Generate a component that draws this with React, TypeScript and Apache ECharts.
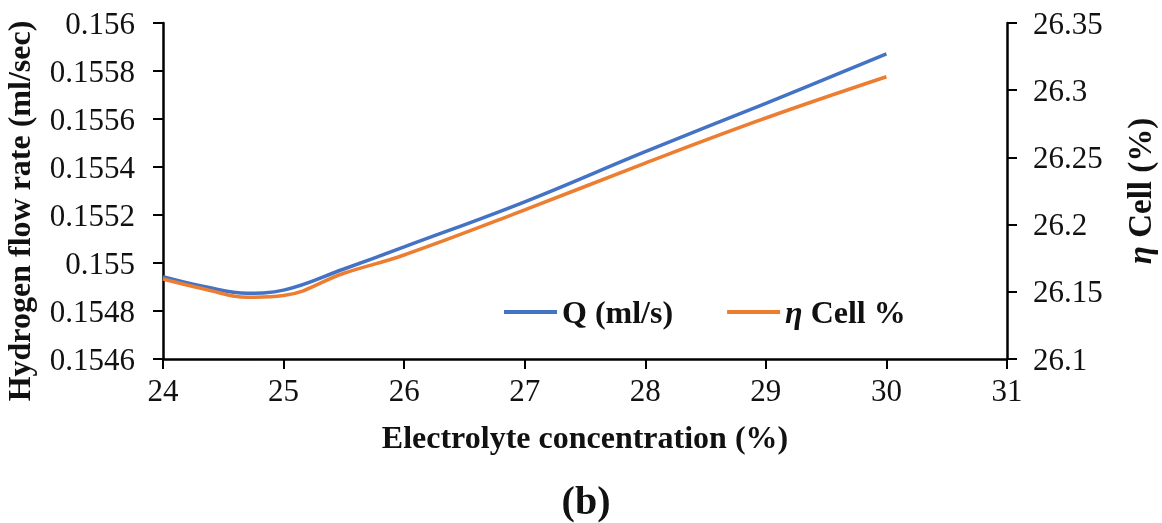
import React, { useEffect, useRef } from "react";
import * as echarts from "echarts";

const concentration = [24, 24.35, 24.7, 25, 25.5, 26, 27, 28, 29, 30];
const flowRate = [0.154943, 0.154901, 0.154874, 0.154887, 0.154975, 0.155067, 0.155255, 0.155464, 0.155665, 0.155871];
const cellEff = [26.1595, 26.1519, 26.1459, 26.1472, 26.1638, 26.1774, 26.2109, 26.2458, 26.2793, 26.31];

const FONT = "'Liberation Serif', 'Times New Roman', serif";
const BLUE = "#4472C4";
const ORANGE = "#ED7D31";

const mkLine = () => ({ show: true, onZero: false, lineStyle: { color: "#000", width: 2.5 } });
const mkTick = () => ({ show: true, inside: false, length: 10, lineStyle: { color: "#000", width: 2 } });

export default function App() {
  const ref = useRef<HTMLDivElement>(null);
  useEffect(() => {
    if (!ref.current) return;
    const chart = echarts.init(ref.current, null, { renderer: "svg" });
    const labelStyle = { color: "#111", fontFamily: FONT, fontSize: 31 };
    const nameStyle = { color: "#111", fontFamily: FONT, fontSize: 32, fontWeight: "bold" as const };
    const italic = (size: number) => ({ fontFamily: FONT, fontSize: size, fontStyle: "italic", fontWeight: "bold", color: "#111" });
    chart.setOption({
      animation: false,
      grid: { left: 163, right: 155, top: 23, bottom: 164, containLabel: false, outerBoundsMode: "none" },
      legend: {
        left: 504,
        top: 296,
        padding: 0,
        itemWidth: 53,
        itemHeight: 4,
        itemGap: 54,
        icon: "rect",
        data: ["Q (ml/s)", "η Cell %"],
        formatter: (name: string) => (name === "η Cell %" ? "{i|η} Cell %" : name),
        textStyle: {
          color: "#111",
          fontFamily: FONT,
          fontSize: 32,
          fontWeight: "bold",
          rich: { i: italic(32) },
        },
      },
      xAxis: {
        type: "value",
        min: 24,
        max: 31,
        interval: 1,
        name: "Electrolyte concentration (%)",
        nameLocation: "middle",
        nameGap: 62,
        nameTextStyle: nameStyle,
        axisLine: mkLine(),
        axisTick: mkTick(),
        splitLine: { show: false },
        axisLabel: { ...labelStyle, margin: 16 },
      },
      yAxis: [
        {
          type: "value",
          min: 0.1546,
          max: 0.156,
          interval: 0.0002,
          name: "Hydrogen flow rate (ml/sec)",
          nameLocation: "middle",
          nameRotate: 90,
          nameGap: 128,
          nameTextStyle: { ...nameStyle, padding: [0, 40, 0, 0] },
          axisLine: mkLine(),
          axisTick: mkTick(),
          splitLine: { show: false },
          axisLabel: { ...labelStyle, margin: 28 },
        },
        {
          type: "value",
          position: "right",
          min: 26.1,
          max: 26.35,
          interval: 0.05,
          name: "{i|η} Cell (%)",
          nameLocation: "middle",
          nameRotate: 90,
          nameGap: 116,
          nameTextStyle: { ...nameStyle, fontSize: 33, rich: { i: italic(33) } },
          axisLine: mkLine(),
          axisTick: mkTick(),
          splitLine: { show: false },
          axisLabel: { ...labelStyle, margin: 26 },
        },
      ],
      series: [
        {
          name: "Q (ml/s)",
          type: "line",
          yAxisIndex: 0,
          smooth: 0.4,
          showSymbol: false,
          lineStyle: { color: BLUE, width: 3.5 },
          itemStyle: { color: BLUE },
          data: concentration.map((c, i) => [c, flowRate[i]]),
        },
        {
          name: "η Cell %",
          type: "line",
          yAxisIndex: 1,
          smooth: 0.4,
          showSymbol: false,
          lineStyle: { color: ORANGE, width: 3.5 },
          itemStyle: { color: ORANGE },
          data: concentration.map((c, i) => [c, cellEff[i]]),
        },
      ],
      graphic: [
        {
          type: "text",
          x: 586,
          y: 500,
          style: {
            text: "(b)",
            fontFamily: FONT,
            fontSize: 40,
            fontWeight: "bold",
            fill: "#111",
            align: "center",
            verticalAlign: "middle",
          },
        },
      ],
    });
    return () => chart.dispose();
  }, []);
  return <div ref={ref} style={{ position: "fixed", left: 0, top: 0, width: 1162, height: 523 }} />;
}
